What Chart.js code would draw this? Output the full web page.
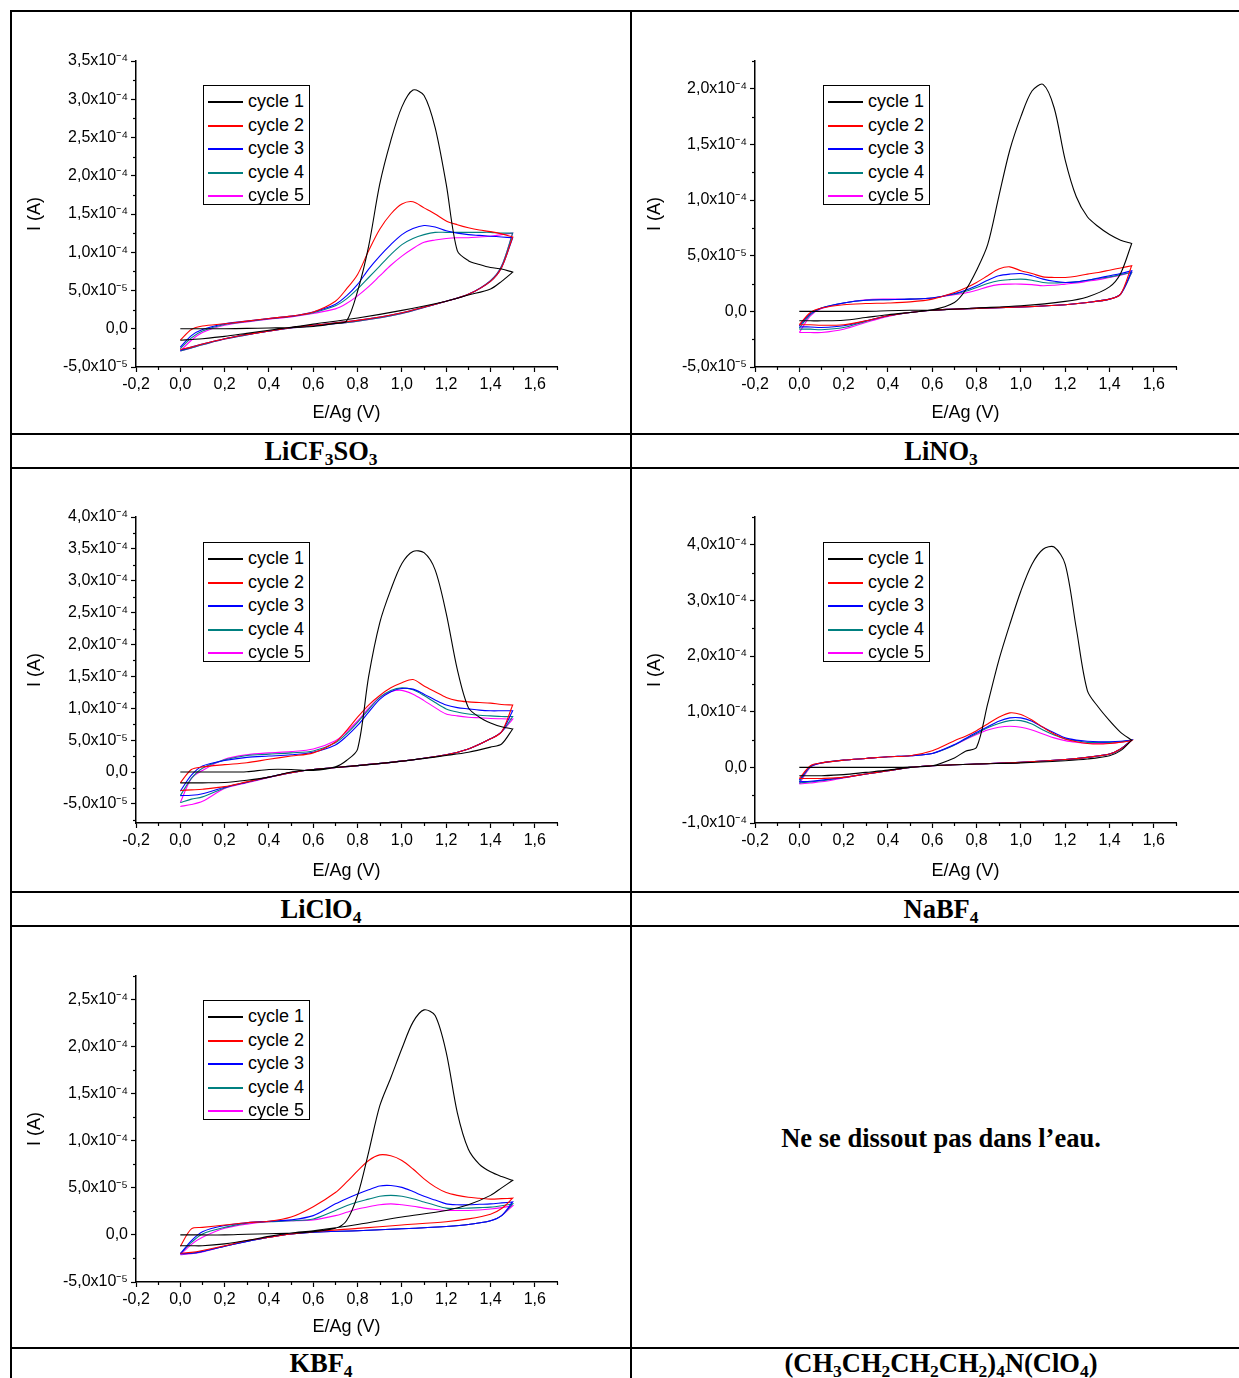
<!DOCTYPE html>
<html>
<head>
<meta charset="utf-8">
<script src="https://cdn.jsdelivr.net/npm/chart.js@4.4.0/dist/chart.umd.min.js"></script>
<style>
html, body { margin: 0; padding: 0; background: #fff; }
body { width: 1239px; height: 1378px; overflow: hidden; position: relative; }
.rule { position: absolute; background: #000; }
.lbl { position: absolute; width: 618px; height: 32px; line-height: 32px; text-align: center;
       font: bold 26.5px "Liberation Serif", "Times New Roman", serif; color: #000; white-space: nowrap; }
.lbl sub { font-size: 17.5px; vertical-align: -5px; line-height: 0; }
.note { position: absolute; width: 618px; text-align: center;
        font: bold 26.5px "Liberation Serif", "Times New Roman", serif; color: #000; }
.legend { position: absolute; width: 105px; height: 118px; border: 1px solid #000; background: #fff;
          font: 18px "Liberation Sans", Arial, sans-serif; color: #000; }
.legend .row { position: absolute; left: 0; width: 105px; height: 23px; line-height: 23px; white-space: nowrap; }
.legend .row i { position: absolute; left: 4px; top: 11px; width: 35px; height: 2px; }
.legend .row b { position: absolute; left: 44px; top: 0; font-weight: normal; }
</style>
</head>
<body>
<script>
// potentiels (V) : balayage aller puis retour
const E_FWD = [0, 0.05, 0.1, 0.2, 0.3, 0.4, 0.5, 0.6, 0.7, 0.75, 0.8, 0.85, 0.9, 0.95, 1.0, 1.05, 1.1, 1.15, 1.2, 1.25, 1.3, 1.35, 1.4, 1.45, 1.5];
const E_REV = [1.5, 1.45, 1.4, 1.3, 1.2, 1.0, 0.8, 0.6, 0.5, 0.4, 0.3, 0.2, 0.1, 0.05, 0];

const CYCLES = ['cycle 1', 'cycle 2', 'cycle 3', 'cycle 4', 'cycle 5'];
const COLORS = ['#000000', '#ff0000', '#0000ff', '#008080', '#ff00ff'];

// courants en 10^-5 A
const LiCF3SO3_fwd = [
  [0, 0, 0, 0, 0.05, 0.1, 0.15, 0.3, 0.7, 1.0, 4.9, 10.8, 18.9, 24.6, 29.0, 31.2, 30.5, 26.3, 18.9, 10.2, 8.9, 8.4, 8.0, 7.8, 7.4],
  [-1.5, -0.1, 0.35, 0.65, 1.0, 1.35, 1.65, 2.2, 3.6, 5.2, 7.1, 10.2, 13.0, 15.0, 16.3, 16.6, 15.8, 15.0, 14.1, 13.6, 13.2, 12.9, 12.7, 12.4, 12.0],
  [-2.4, -0.9, -0.1, 0.65, 1.0, 1.35, 1.65, 2.2, 3.2, 4.3, 5.8, 7.8, 9.5, 11.0, 12.3, 13.1, 13.5, 13.3, 12.8, 12.5, 12.3, 12.2, 12.1, 12.0, 11.9],
  [-2.6, -1.2, -0.3, 0.55, 0.95, 1.3, 1.6, 2.1, 3.0, 3.9, 5.2, 6.7, 8.2, 9.7, 11.0, 11.8, 12.3, 12.6, 12.6, 12.6, 12.6, 12.6, 12.6, 12.5, 12.5],
  [-2.9, -1.5, -0.5, 0.45, 0.9, 1.25, 1.55, 2.0, 2.6, 3.3, 4.3, 5.5, 6.9, 8.3, 9.5, 10.5, 11.3, 11.6, 11.8, 11.9, 11.9, 12.0, 12.1, 12.3, 12.5]
];
const LiCF3SO3_rev = [
  [7.4, 6.2, 5.2, 4.4, 3.6, 2.4, 1.4, 0.6, 0.2, -0.2, -0.6, -1.0, -1.3, -1.4, -1.5],
  [12.0, 8.0, 6.2, 4.5, 3.6, 2.1, 1.1, 0.45, 0.15, -0.3, -0.75, -1.3, -2.0, -2.4, -2.7],
  [11.9, 8.0, 6.2, 4.5, 3.6, 2.1, 1.1, 0.45, 0.15, -0.3, -0.75, -1.3, -2.0, -2.4, -2.8],
  [12.5, 8.2, 6.3, 4.5, 3.6, 2.0, 1.0, 0.4, 0.1, -0.3, -0.8, -1.35, -2.1, -2.5, -2.9],
  [12.5, 8.2, 6.3, 4.5, 3.6, 2.0, 1.0, 0.4, 0.1, -0.3, -0.8, -1.35, -2.1, -2.5, -2.9]
];

const LiNO3_fwd = [
  [0, 0, 0, 0, 0, 0.05, 0.1, 0.15, 0.8, 1.9, 3.7, 6.0, 10.3, 14.5, 17.5, 19.8, 20.4, 18.3, 13.6, 10.3, 8.5, 7.6, 6.9, 6.4, 6.1],
  [-1.2, -0.1, 0.3, 0.6, 0.7, 0.75, 0.85, 1.1, 1.7, 2.1, 2.6, 3.2, 3.8, 4.0, 3.65, 3.4, 3.1, 3.05, 3.05, 3.15, 3.35, 3.5, 3.7, 3.9, 4.1],
  [-1.3, -0.2, 0.3, 0.75, 1.0, 1.05, 1.1, 1.2, 1.6, 1.9, 2.3, 2.8, 3.2, 3.35, 3.4, 3.2, 2.9, 2.7, 2.6, 2.65, 2.8, 3.0, 3.2, 3.4, 3.65],
  [-1.5, -0.3, 0.3, 0.75, 1.0, 1.05, 1.1, 1.2, 1.55, 1.8, 2.15, 2.5, 2.75, 2.85, 2.9, 2.8, 2.6, 2.55, 2.6, 2.65, 2.8, 2.95, 3.1, 3.3, 3.5],
  [-1.9, -0.4, 0.25, 0.75, 1.05, 1.1, 1.1, 1.2, 1.5, 1.65, 1.9, 2.2, 2.4, 2.45, 2.45, 2.4, 2.3, 2.35, 2.45, 2.55, 2.7, 2.85, 3.05, 3.25, 3.5]
];
const LiNO3_rev = [
  [6.1, 3.4, 2.2, 1.3, 0.9, 0.5, 0.3, 0.1, -0.1, -0.3, -0.55, -0.8, -0.85, -0.85, -0.85],
  [4.1, 1.55, 1.1, 0.8, 0.6, 0.4, 0.27, 0.1, -0.1, -0.4, -0.85, -1.2, -1.25, -1.2, -1.2],
  [3.65, 1.55, 1.1, 0.8, 0.6, 0.4, 0.27, 0.1, -0.1, -0.4, -0.85, -1.3, -1.45, -1.4, -1.4],
  [3.5, 1.55, 1.1, 0.8, 0.6, 0.4, 0.27, 0.1, -0.1, -0.4, -0.9, -1.45, -1.65, -1.6, -1.6],
  [3.5, 1.55, 1.1, 0.8, 0.6, 0.4, 0.27, 0.1, -0.1, -0.45, -1.0, -1.6, -1.9, -1.9, -1.9]
];

const LiClO4_fwd = [
  [0, 0, 0, 0, 0.05, 0.4, 0.4, 0.25, 0.8, 1.8, 3.6, 15.0, 23.4, 28.6, 32.7, 34.6, 34.4, 31.7, 24.9, 16.1, 10.1, 8.6, 7.7, 7.1, 6.75],
  [-1.7, 0.4, 0.8, 1.15, 1.45, 2.0, 2.5, 3.0, 4.7, 6.5, 8.6, 10.5, 12.0, 13.2, 14.0, 14.5, 13.5, 12.6, 11.7, 11.2, 11.0, 10.9, 10.8, 10.6, 10.5],
  [-3.0, -0.5, 0.95, 1.8, 2.3, 2.5, 2.7, 3.1, 4.25, 5.6, 7.3, 9.4, 11.4, 12.6, 13.1, 13.0, 12.2, 11.3, 10.5, 10.1, 9.9, 9.7, 9.6, 9.6, 9.6],
  [-3.7, -1.0, 0.6, 1.9, 2.6, 2.8, 3.0, 3.3, 4.6, 6.0, 7.8, 9.8, 11.7, 12.8, 13.2, 12.9, 12.0, 10.9, 9.9, 9.4, 9.1, 8.9, 8.8, 8.7, 8.7],
  [-4.8, -1.0, 0.25, 2.0, 2.7, 3.0, 3.2, 3.6, 4.9, 6.3, 8.0, 10.0, 11.7, 12.6, 12.8, 12.2, 11.2, 10.1, 9.1, 8.8, 8.6, 8.5, 8.4, 8.35, 8.3]
];
const LiClO4_rev = [
  [6.75, 4.4, 3.9, 3.1, 2.6, 1.7, 1.0, 0.4, 0, -0.8, -1.3, -1.65, -1.7, -1.7, -1.7],
  [10.5, 6.3, 5.2, 3.6, 2.7, 1.7, 1.0, 0.4, -0.1, -0.8, -1.55, -2.3, -2.7, -2.8, -2.9],
  [9.6, 6.3, 5.2, 3.6, 2.7, 1.7, 1.0, 0.4, -0.1, -0.8, -1.6, -2.4, -3.4, -3.65, -3.7],
  [8.7, 6.3, 5.2, 3.6, 2.7, 1.7, 1.0, 0.4, -0.1, -0.8, -1.6, -2.5, -3.9, -4.25, -4.8],
  [8.3, 6.3, 5.2, 3.6, 2.7, 1.7, 1.0, 0.4, -0.1, -0.85, -1.7, -2.6, -4.6, -5.1, -5.4]
];

const NaBF4_fwd = [
  [0, 0, 0, 0, 0, 0, 0.05, 0.3, 1.7, 2.9, 3.6, 11.4, 19.2, 25.7, 31.7, 36.5, 39.2, 39.6, 36.5, 25.0, 13.8, 10.8, 8.4, 6.3, 4.9],
  [-2.0, 0.3, 0.8, 1.3, 1.6, 1.9, 2.1, 3.0, 4.8, 5.6, 6.6, 7.8, 9.0, 9.8, 9.5, 8.5, 7.2, 6.0, 5.1, 4.6, 4.3, 4.2, 4.3, 4.5, 4.8],
  [-2.3, 0.2, 0.8, 1.3, 1.6, 1.9, 2.1, 2.5, 4.1, 5.2, 6.3, 7.3, 8.3, 8.9, 8.9, 8.3, 7.2, 6.2, 5.3, 4.9, 4.7, 4.6, 4.6, 4.7, 4.9],
  [-2.6, 0.1, 0.8, 1.3, 1.6, 1.9, 2.1, 2.5, 4.0, 5.1, 6.1, 7.1, 7.9, 8.4, 8.4, 7.8, 6.7, 5.8, 5.1, 4.8, 4.5, 4.5, 4.5, 4.6, 4.9],
  [-3.0, 0.0, 0.8, 1.3, 1.6, 1.9, 2.1, 2.5, 4.0, 5.0, 5.9, 6.7, 7.2, 7.4, 7.2, 6.7, 6.0, 5.3, 4.8, 4.5, 4.3, 4.3, 4.3, 4.5, 4.9]
];
const NaBF4_rev = [
  [4.9, 3.0, 2.1, 1.5, 1.2, 0.8, 0.6, 0.3, 0, -0.5, -0.9, -1.3, -1.5, -1.5, -1.5],
  [4.8, 3.3, 2.4, 1.8, 1.4, 0.9, 0.6, 0.3, 0, -0.6, -1.2, -1.8, -2.0, -2.0, -2.0],
  [4.9, 3.3, 2.4, 1.8, 1.4, 0.9, 0.6, 0.3, 0, -0.6, -1.2, -1.8, -2.3, -2.5, -2.6],
  [4.9, 3.3, 2.4, 1.8, 1.4, 0.9, 0.6, 0.3, 0, -0.6, -1.2, -1.8, -2.4, -2.6, -2.8],
  [4.9, 3.3, 2.4, 1.8, 1.4, 0.9, 0.6, 0.3, 0, -0.6, -1.2, -1.9, -2.6, -2.8, -3.0]
];

const KBF4_fwd = [
  [0, 0, 0, 0, 0.07, 0.12, 0.2, 0.35, 0.7, 1.5, 4.2, 8.8, 13.7, 16.7, 19.8, 22.6, 23.9, 23.3, 19.4, 13.0, 9.1, 7.5, 6.7, 6.2, 5.8],
  [-1.2, 0.65, 0.8, 1.05, 1.3, 1.45, 1.9, 3.0, 4.5, 5.6, 6.8, 7.9, 8.5, 8.4, 7.9, 7.0, 5.95, 5.1, 4.5, 4.2, 4.0, 3.9, 3.8, 3.85, 3.9],
  [-2.0, -0.6, 0.35, 1.0, 1.3, 1.45, 1.6, 2.05, 3.3, 3.85, 4.35, 4.8, 5.2, 5.25, 5.05, 4.6, 4.1, 3.7, 3.3, 3.2, 3.2, 3.25, 3.3, 3.4, 3.5],
  [-2.0, -0.8, 0.1, 0.8, 1.25, 1.4, 1.5, 1.7, 2.6, 3.1, 3.5, 3.8, 4.1, 4.2, 4.1, 3.85, 3.5, 3.15, 2.85, 2.8, 2.85, 2.9, 2.95, 3.1, 3.3],
  [-2.1, -1.0, -0.25, 0.7, 1.15, 1.4, 1.5, 1.6, 2.05, 2.4, 2.75, 3.0, 3.2, 3.3, 3.2, 3.05, 2.85, 2.7, 2.6, 2.6, 2.6, 2.65, 2.75, 2.9, 3.1]
];
const KBF4_rev = [
  [5.8, 5.0, 4.2, 3.2, 2.6, 1.9, 1.1, 0.45, 0.2, -0.15, -0.6, -0.95, -1.15, -1.15, -1.15],
  [3.9, 2.8, 2.2, 1.7, 1.4, 1.05, 0.7, 0.35, 0.1, -0.25, -0.6, -1.15, -1.65, -1.85, -1.95],
  [3.5, 2.05, 1.5, 1.1, 0.9, 0.65, 0.45, 0.3, 0.1, -0.25, -0.7, -1.2, -1.75, -1.95, -2.0],
  [3.3, 2.05, 1.5, 1.1, 0.9, 0.65, 0.45, 0.3, 0.1, -0.25, -0.7, -1.2, -1.75, -1.95, -2.0],
  [3.1, 2.05, 1.5, 1.1, 0.9, 0.65, 0.45, 0.3, 0.1, -0.25, -0.7, -1.2, -1.8, -2.0, -2.1]
];

// axes Y (10^-5 A)
const Y_MIN = [-5, -5, -8, -10, -5];
const Y_MAX = [35, 22.5, 40, 45, 27.5];
const Y_STEP = [5, 5, 5, 10, 5];

// mise en page du tableau
const COL_LEFT = [12, 632];
const ROW_TOP = [12, 469, 927];
const ROW_H = [421, 422, 420];
const AREA_TOP = [49, 48, 49];
const AXIS_W = [124, 123];

Chart.defaults.font.family = '"Liberation Sans", Arial, sans-serif';
Chart.defaults.color = '#000';

const SUP = { '-': '\u207B', '0': '\u2070', '1': '\u00B9', '2': '\u00B2', '3': '\u00B3', '4': '\u2074', '5': '\u2075', '6': '\u2076', '7': '\u2077', '8': '\u2078', '9': '\u2079' };

function fmtY(v) {
  if (Math.abs(v) < 1e-9) return '0,0';
  let m = v, exp = -5;
  if (Math.abs(v) >= 10 - 1e-9) { m = v / 10; exp = -4; }
  return m.toFixed(1).replace('.', ',') + 'x10' + String(exp).split('').map(c => SUP[c]).join('');
}
function fmtX(v) {
  if (Math.abs(v) < 1e-9) return '0,0';
  return v.toFixed(1).replace('.', ',');
}

// petites graduations entre les grandes
const minorTicks = {
  id: 'minorTicks',
  afterDraw(chart) {
    const ctx = chart.ctx;
    ctx.save();
    ctx.strokeStyle = '#000';
    ctx.lineWidth = 1.2;
    ['x', 'y'].forEach(id => {
      const s = chart.scales[id];
      const step = s.options.ticks.stepSize;
      const vals = s.ticks.map(t => t.value);
      const minors = [];
      vals.forEach(v => { if (v + step / 2 <= s.max + 1e-9) minors.push(v + step / 2); });
      if (vals.length && vals[0] - step / 2 >= s.min - 1e-9) minors.push(vals[0] - step / 2);
      minors.forEach(v => {
        const p = Math.round(s.getPixelForValue(v)) + 0.5;
        ctx.beginPath();
        if (id === 'x') { ctx.moveTo(p, s.top); ctx.lineTo(p, s.top + 3); }
        else { ctx.moveTo(s.right, p); ctx.lineTo(s.right - 3, p); }
        ctx.stroke();
      });
    });
    ctx.restore();
  }
};

function makePanel(n, col, row, fwd, rev) {
  const canvas = document.createElement('canvas');
  canvas.width = 618;
  canvas.height = ROW_H[row];
  canvas.style.cssText = 'position:absolute;left:' + COL_LEFT[col] + 'px;top:' + ROW_TOP[row] + 'px';
  document.body.appendChild(canvas);

  const datasets = CYCLES.map((label, k) => ({
    label: label,
    data: E_FWD.map((e, i) => ({ x: e, y: fwd[k][i] }))
      .concat(E_REV.map((e, i) => ({ x: e, y: rev[k][i] }))),
    borderColor: COLORS[k],
    backgroundColor: COLORS[k],
    borderWidth: 1.1,
    pointRadius: 0,
    showLine: true,
    fill: false,
    tension: 0.3
  }));

  const chart = new Chart(canvas, {
    type: 'scatter',
    data: { datasets: datasets },
    options: {
      responsive: false,
      animation: false,
      layout: { padding: { left: 0, top: AREA_TOP[row], right: 618 - AXIS_W[col] - 421, bottom: 0 } },
      plugins: { legend: { display: false }, tooltip: { enabled: false } },
      scales: {
        x: {
          type: 'linear', position: 'bottom', min: -0.2, max: 1.7,
          ticks: { stepSize: 0.2, includeBounds: false, callback: fmtX, font: { size: 16 }, padding: 3, maxRotation: 0 },
          grid: { drawOnChartArea: false, drawTicks: true, tickLength: 5, tickColor: '#000', tickWidth: 1.2 },
          border: { display: true, color: '#000', width: 1.5 },
          title: { display: true, text: 'E/Ag (V)', font: { size: 18 }, padding: { top: 0, bottom: 9 } },
          afterFit: s => { s.height = ROW_H[row] - AREA_TOP[row] - 306; }
        },
        y: {
          type: 'linear', position: 'left', min: Y_MIN[n], max: Y_MAX[n],
          ticks: { stepSize: Y_STEP[n], includeBounds: false, callback: fmtY, font: { size: 16 }, padding: 3 },
          grid: { drawOnChartArea: false, drawTicks: true, tickLength: 5, tickColor: '#000', tickWidth: 1.2 },
          border: { display: true, color: '#000', width: 1.5 },
          title: { display: true, text: 'I (A)', font: { size: 18 }, padding: { top: 12, bottom: 0 } },
          afterFit: s => { s.width = AXIS_W[col]; }
        }
      }
    },
    plugins: [minorTicks]
  });

  // légende encadrée dans la zone du graphe
  const lg = document.createElement('div');
  lg.className = 'legend';
  lg.style.left = (COL_LEFT[col] + 191) + 'px';
  lg.style.top = (ROW_TOP[row] + 73) + 'px';
  chart.data.datasets.forEach((ds, k) => {
    const r = document.createElement('div');
    r.className = 'row';
    r.style.top = Math.round(4 + 23.5 * k) + 'px';
    const s = document.createElement('i');
    s.style.background = ds.borderColor;
    const t = document.createElement('b');
    t.textContent = ds.label;
    r.appendChild(s);
    r.appendChild(t);
    lg.appendChild(r);
  });
  document.body.appendChild(lg);
  return chart;
}

// traits du tableau
function rule(l, t, w, h) {
  const d = document.createElement('div');
  d.className = 'rule';
  d.style.cssText = 'left:' + l + 'px;top:' + t + 'px;width:' + w + 'px;height:' + h + 'px';
  document.body.appendChild(d);
}
[10, 433, 467, 891, 925, 1347].forEach(y => rule(10, y, 1240, 2));
rule(10, 10, 2, 1368);
rule(630, 10, 2, 1368);

function label(html, col, top) {
  const d = document.createElement('div');
  d.className = 'lbl';
  d.style.left = COL_LEFT[col] + 'px';
  d.style.top = top + 'px';
  d.innerHTML = html;
  document.body.appendChild(d);
}
label('LiCF<sub>3</sub>SO<sub>3</sub>', 0, 436);
label('LiNO<sub>3</sub>', 1, 436);
label('LiClO<sub>4</sub>', 0, 894);
label('NaBF<sub>4</sub>', 1, 894);
label('KBF<sub>4</sub>', 0, 1348);
label('(CH<sub>3</sub>CH<sub>2</sub>CH<sub>2</sub>CH<sub>2</sub>)<sub>4</sub>N(ClO<sub>4</sub>)', 1, 1348);

const note = document.createElement('div');
note.className = 'note';
note.style.left = '632px';
note.style.top = '1123px';
note.textContent = 'Ne se dissout pas dans l\u2019eau.';
document.body.appendChild(note);

makePanel(0, 0, 0, LiCF3SO3_fwd, LiCF3SO3_rev);
makePanel(1, 1, 0, LiNO3_fwd, LiNO3_rev);
makePanel(2, 0, 1, LiClO4_fwd, LiClO4_rev);
makePanel(3, 1, 1, NaBF4_fwd, NaBF4_rev);
makePanel(4, 0, 2, KBF4_fwd, KBF4_rev);
</script>
</body>
</html>
